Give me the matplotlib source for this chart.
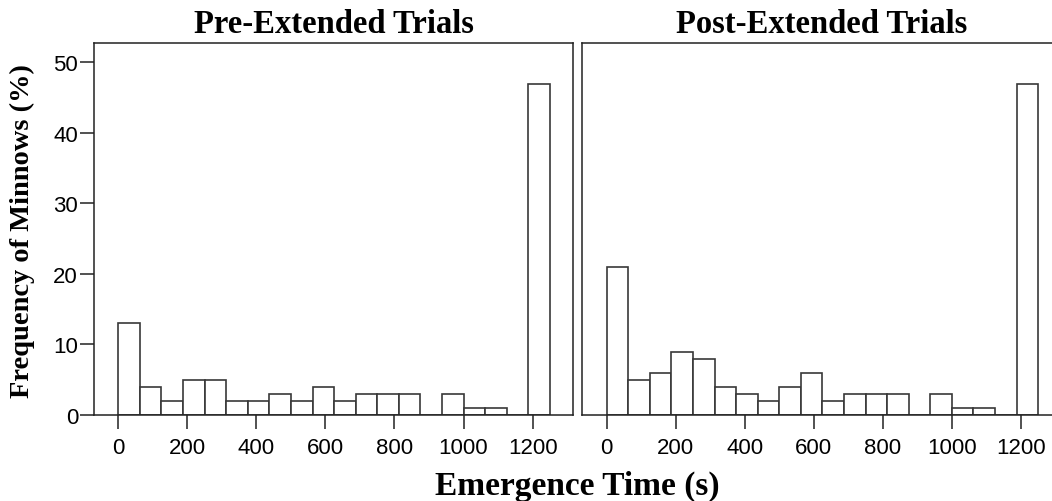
import matplotlib
matplotlib.use('Agg')
from matplotlib import pyplot as plt

# bins of 62.5 s from 0 to 1250 s; last bin holds fish that never emerged (1200 s cap)
bin_starts = [i * 62.5 for i in range(20)]
pre_pct = [13, 4, 2, 5, 5, 2, 2, 3, 2, 4, 2, 3, 3, 3, 0, 3, 1, 1, 0, 47]
post_pct = [21, 5, 6, 9, 8, 4, 3, 2, 4, 6, 2, 3, 3, 3, 0, 3, 1, 1, 0, 47]
x_ticks = [0, 200, 400, 600, 800, 1000, 1200]
y_ticks = [0, 10, 20, 30, 40, 50]

serif = ['Liberation Serif', 'DejaVu Serif']
sans = ['Liberation Sans', 'DejaVu Sans']

W, H = 1052, 502
fig = plt.figure(figsize=(W / 100, H / 100), dpi=100)
# pixel boxes: left, bottom, width, height (right panel runs off the edge)
ax1 = fig.add_axes([94 / W, 86 / H, 479.3 / W, 371.7 / H])
ax2 = fig.add_axes([582.3 / W, 86 / H, 479.3 / W, 371.7 / H])

for ax, vals, title in [(ax1, pre_pct, 'Pre-Extended Trials'),
                        (ax2, post_pct, 'Post-Extended Trials')]:
    ax.bar(bin_starts, vals, width=62.5, align='edge', color='white',
           edgecolor='#383838', linewidth=1.2, zorder=2)
    ax.set_xlim(-70.5, 1318)
    ax.set_ylim(0, 52.7)
    ax.set_xticks(x_ticks)
    ax.set_xticklabels([str(t) for t in x_ticks], family=sans, fontsize=16)
    ax.tick_params(axis='x', direction='out', length=10, width=1.2,
                   pad=6, color='#333333')
    for s in ax.spines.values():
        s.set_color('#222222')
        s.set_linewidth(1.1)
    ax.set_title(title, family=serif, fontweight='bold', fontsize=23.5, pad=8)

ax1.set_yticks(y_ticks)
ax1.set_yticklabels([str(t) for t in y_ticks], family=sans, fontsize=16)
ax1.tick_params(axis='y', direction='out', length=10, width=1.2, pad=1.5,
                color='#333333')
ax2.set_yticks([])

fig.text(0.021, 0.54, 'Frequency of Minnows (%)', rotation=90, ha='center',
         va='center', family=serif, fontweight='bold', fontsize=20.5)
fig.text(0.549, 0.014, 'Emergence Time (s)', ha='center', va='baseline',
         family=serif, fontweight='bold', fontsize=24)

fig.savefig('out.png', dpi=100)
